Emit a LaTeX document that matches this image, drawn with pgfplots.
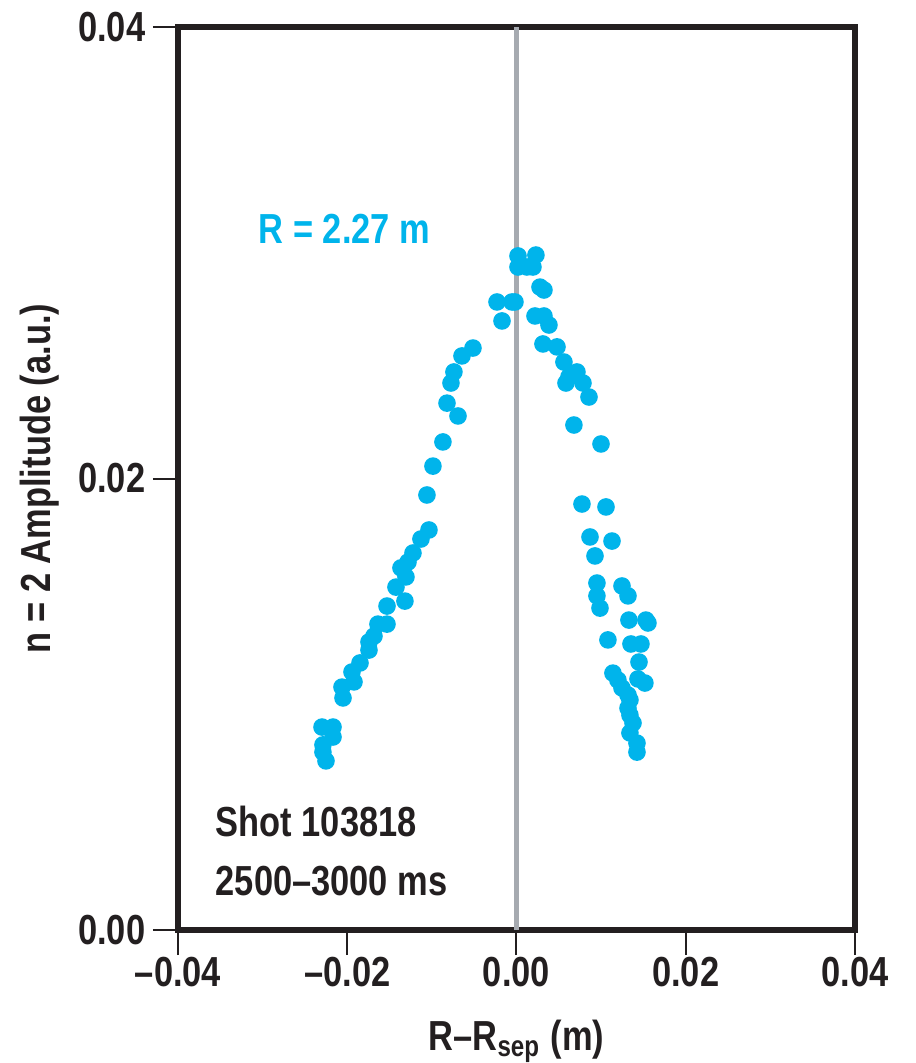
\documentclass[border=0pt]{standalone}
\usepackage{fontspec}
\setmainfont{Liberation Sans}[FakeStretch=0.82]
\usepackage{pgfplots}
\pgfplotsset{compat=1.18}
\definecolor{dot}{RGB}{0,180,235}
\definecolor{ink}{RGB}{35,31,32}
\definecolor{zline}{RGB}{166,170,176}
\newcommand{\ff}{\fontsize{10.5}{12}\selectfont\bfseries}
\begin{document}
\bfseries
\begin{tikzpicture}
\begin{axis}[
  scale only axis, width=169.25pt, height=225.75pt,
  xmin=-0.04, xmax=0.04, ymin=0, ymax=0.04,
  axis line style={line width=1.3pt, draw=ink},
  tick style={line width=0.5pt, draw=ink},
  tick align=outside, major tick length=6.25pt,
  xtick={-0.04,-0.02,0,0.02,0.04},
  xticklabels={–0.04,–0.02,0.00,0.02,0.04},
  ytick={0,0.02,0.04}, yticklabels={0.00,0.02,0.04},
  xtick pos=bottom, ytick pos=left,
  minor tick num=0,
  scaled ticks=false,
  ticklabel style={font=\ff, text=ink, inner sep=0pt},
  xticklabel style={anchor=north, yshift=-0.4pt},
  yticklabel style={anchor=east, xshift=-1.75pt},
  clip=false,
  xlabel={R–R\textsubscript{sep} (m)},
  ylabel={n = 2 Amplitude (a.u.)},
  label style={font=\ff, text=ink, inner sep=0pt},
  xlabel style={at={(axis description cs:0.5,0)}, anchor=base, yshift=-30pt},
  ylabel style={at={(axis description cs:-0.189,0.5)}, anchor=base},
]
\addplot[draw=zline, line width=1.3pt] coordinates {(0,0) (0,0.04)};
\addplot[only marks, mark=*, mark size=2pt, color=dot, mark options={draw=none, fill=dot}] table {
x y
-0.00514 0.02578
-0.00644 0.02543
-0.00739 0.02472
-0.00774 0.02423
-0.00821 0.02334
-0.00691 0.02277
-0.00869 0.02162
-0.00987 0.02055
-0.01058 0.01927
-0.01034 0.01772
-0.01129 0.01732
-0.01223 0.01670
-0.01282 0.01630
-0.01365 0.01604
-0.01306 0.01564
-0.01424 0.01519
-0.01318 0.01457
-0.01530 0.01435
-0.01530 0.01355
-0.01637 0.01355
-0.01684 0.01302
-0.01743 0.01276
-0.01743 0.01240
-0.01849 0.01183
-0.01944 0.01143
-0.01920 0.01099
-0.02062 0.01076
-0.02050 0.01028
-0.02298 0.00899
-0.02168 0.00899
-0.02168 0.00855
-0.02287 0.00820
-0.02287 0.00788
-0.02251 0.00749
0.00018 0.02986
0.00230 0.02990
0.00018 0.02937
0.00124 0.02937
0.00195 0.02937
0.00278 0.02848
0.00325 0.02835
-0.00230 0.02782
-0.00053 0.02782
-0.00018 0.02782
-0.00171 0.02698
0.00219 0.02720
0.00325 0.02720
0.00384 0.02680
0.00313 0.02596
0.00479 0.02583
0.00561 0.02516
0.00715 0.02472
0.00620 0.02450
0.00585 0.02423
0.00786 0.02423
0.00857 0.02361
0.00679 0.02237
0.00999 0.02153
0.00774 0.01887
0.01058 0.01874
0.00869 0.01741
0.01129 0.01723
0.00928 0.01657
0.00951 0.01537
0.01247 0.01524
0.00951 0.01480
0.01318 0.01480
0.00987 0.01426
0.01329 0.01373
0.01530 0.01373
0.01554 0.01360
0.01081 0.01285
0.01353 0.01267
0.01471 0.01267
0.01448 0.01187
0.01140 0.01138
0.01199 0.01107
0.01436 0.01112
0.01518 0.01094
0.01247 0.01072
0.01318 0.01041
0.01341 0.01019
0.01318 0.00983
0.01341 0.00952
0.01377 0.00917
0.01341 0.00873
0.01424 0.00828
0.01424 0.00788
};
\node[anchor=base west, font=\ff, text=dot, inner sep=0pt] at (axis cs:-0.03055,0.03043) {R = 2.27 m};
\node[anchor=base west, font=\ff, text=ink, inner sep=0pt] at (axis cs:-0.03563,0.00412) {Shot 103818};
\node[anchor=base west, font=\ff, text=ink, inner sep=0pt] at (axis cs:-0.03563,0.00155) {2500–3000 ms};
\end{axis}
\pgfresetboundingbox
\path ([shift={(-44.5pt,-33.25pt)}]current axis.south west) rectangle ([shift={(184.5pt,232.5pt)}]current axis.south west);
\end{tikzpicture}
\end{document}
